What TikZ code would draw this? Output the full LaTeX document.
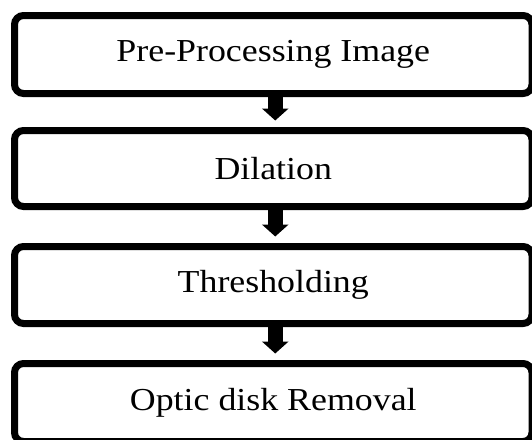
\documentclass[tikz,border=0pt]{standalone}
\usepackage{fontspec}
\setmainfont{Liberation Serif}[FakeStretch=1.12]
\usetikzlibrary{arrows.meta}
\begin{document}
\begin{tikzpicture}[x=1pt,y=-1pt,
  stepbox/.style={draw=black,line width=7pt,rounded corners=9pt,fill=white,
    minimum width=517.5pt,minimum height=78pt,inner sep=0pt,
    font=\fontsize{32}{36}\selectfont},
  flow/.style={line width=15pt,-{Triangle[width=26pt,length=12pt]},shorten >=6.5pt}]
\useasboundingbox (0,0) rectangle (532,439);
\clip (0,0) rectangle (532,439);
\node[stepbox] (a) at (273.25,54.5) {Pre-Processing Image};
\node[stepbox,minimum height=76pt] (b) at (273.25,168.5) {Dilation};
\node[stepbox,minimum height=77pt] (c) at (273.25,285) {Thresholding};
\node[stepbox] (d) at (273.25,402.5) {Optic disk Removal};
\draw[flow] ([xshift=2pt]a.south) -- ([xshift=2pt]b.north);
\draw[flow] ([xshift=2pt]b.south) -- ([xshift=2pt]c.north);
\draw[flow] ([xshift=2pt]c.south) -- ([xshift=2pt]d.north);
\end{tikzpicture}
\end{document}
